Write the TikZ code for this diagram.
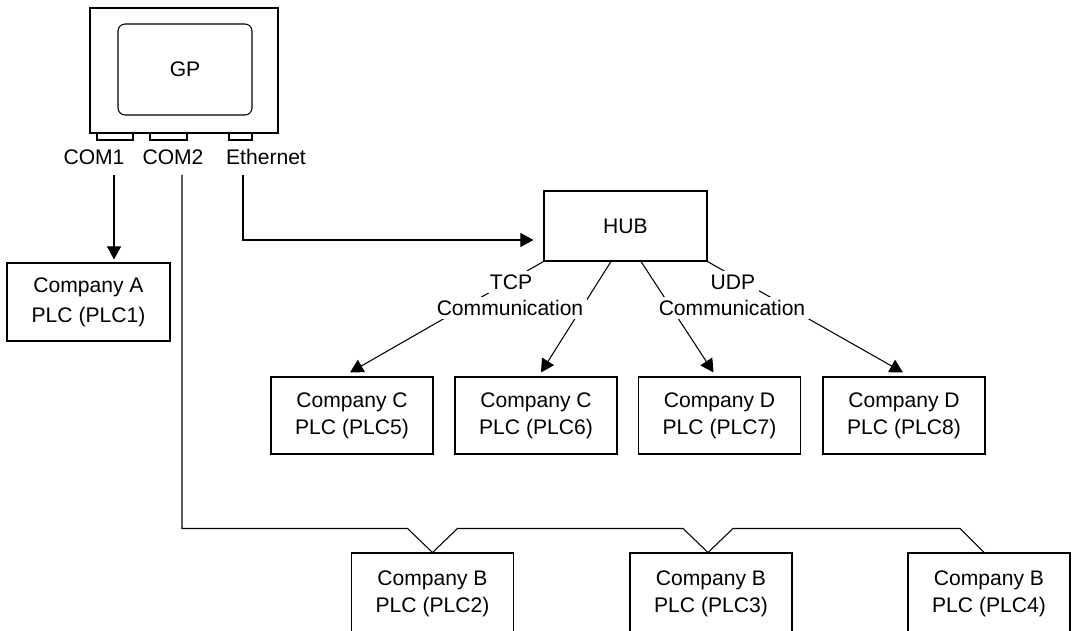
\documentclass[tikz,border=0pt]{standalone}
\usepackage{fontspec}
\setmainfont{Liberation Sans}
\usetikzlibrary{
    arrows.meta,
    calc,
    positioning
}

\begin{document}
\begin{tikzpicture}[x=0.02cm, y=-0.02cm, line width=0.6pt,
        font=\fontsize{12}{15.4}\selectfont,
        >={Triangle[length=7.5pt, width=8pt]},
        plcbox/.style={draw, align=center, minimum width=3.24cm, minimum height=1.54cm, inner sep=0pt},
        port/.style={draw, minimum height=0.14cm, inner sep=0pt},
        commlabel/.style={fill=white, inner sep=2pt}]
                        \useasboundingbox (0, 0) rectangle (1073, 631);

                        \node[draw, minimum width=3.76cm, minimum height=2.5cm] (gp) at (184, 70.5) {};
                        \node[draw, rounded corners=4pt, minimum width=2.68cm, minimum height=1.82cm] (screen) at (185, 69.5) {GP};
                        \node[port, minimum width=0.72cm] (p1) at (115, 136.5) {};
                        \node[port, minimum width=0.74cm] (p2) at (168.5, 136.5) {};
                        \node[port, minimum width=0.46cm] (p3) at (240.5, 136.5) {};
                        \node (com1) at (94, 157) {COM1};
                        \node (com2) at (173, 157) {COM2};
                        \node (eth) at (266, 157) {Ethernet};
                        \coordinate (c1) at (114, 175);
                        \coordinate (c2) at (182, 175);
                        \coordinate (c3) at (243, 175);

                        \node[plcbox, minimum width=3.26cm, minimum height=1.56cm, font=\fontsize{12}{17}\selectfont] (plc1) at (88.5, 302) {Company A\\PLC (PLC1)};
                        \node[draw, minimum width=3.26cm, minimum height=1.4cm] (hub) at (625.5, 226) {HUB};

                        \node[plcbox] (plc5) at (352, 415.5) {Company C\\PLC (PLC5)};
                        \node[plcbox] (plc6) at (536, 415.5) {Company C\\PLC (PLC6)};
                        \node[plcbox] (plc7) at (719.5, 415.5) {Company D\\PLC (PLC7)};
                        \node[plcbox] (plc8) at (904, 415.5) {Company D\\PLC (PLC8)};

                        \node[plcbox, minimum height=1.64cm] (plc2) at (432.5, 594) {Company B\\PLC (PLC2)};
                        \node[plcbox, minimum height=1.64cm] (plc3) at (711, 594) {Company B\\PLC (PLC3)};
                        \node[plcbox, minimum height=1.64cm] (plc4) at (989, 594) {Company B\\PLC (PLC4)};

                        \draw[->, shorten >=0.06cm] (c1) -- (c1 |- plc1.north);
                        \draw[->, shorten >=0.2cm] (c3) |- ($(hub.west)+(0, 14)$);

                        \draw[->] (hub.south west) -- ($(plc5.north)+(-2, -4)$);
                        \draw[->] ($(hub.south)+(-14.5, 0)$) -- ($(plc6.north)+(5, -4)$);
                        \draw[->] ($(hub.south)+(15.5, 0)$) -- ($(plc7.north)+(-6, -4)$);
                        \draw[->] (hub.south east) -- ($(plc8.north)+(-1, -4)$);

                        \node[commlabel] (tcp) at (511, 282) {TCP};
                        \node[commlabel] (tcpcomm) at (510, 308) {Communication};
                        \node[commlabel] (udp) at (733, 282) {UDP};
                        \node[commlabel] (udpcomm) at (732, 308) {Communication};

                        \draw (c2) |- ($(plc2.north)+(-25, -24)$) -- (plc2.north) -- ++(25, -24)
                        -- ($(plc3.north)+(-28, -24)$) -- ($(plc3.north)+(-3, 0)$) -- ++(25, -24)
                        -- ($(plc4.north)+(-29, -24)$) -- ($(plc4.north)+(-5, 0)$);
                    \end{tikzpicture}
\end{document}
